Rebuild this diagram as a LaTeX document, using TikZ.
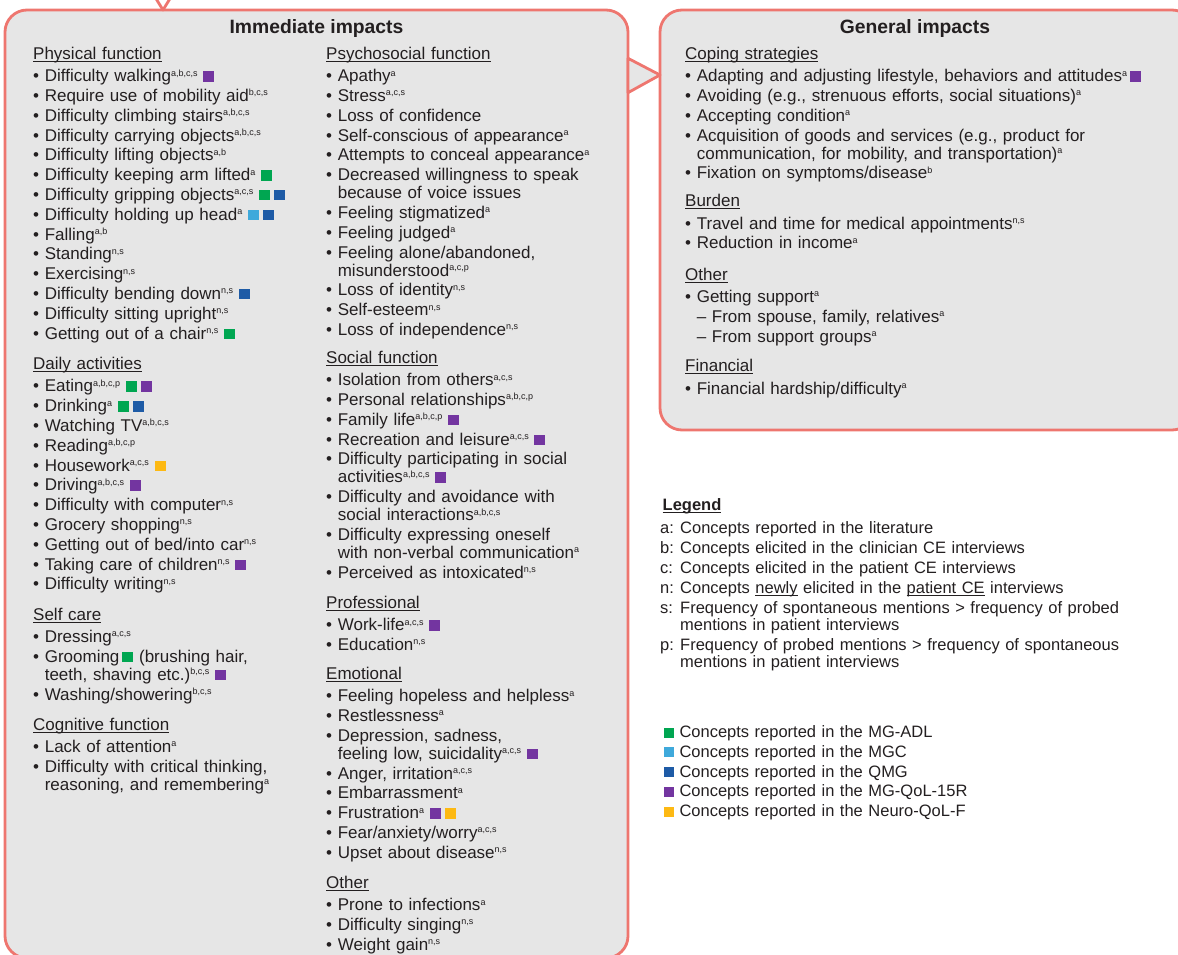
\documentclass[tikz,border=0pt]{standalone}
\usepackage{fontspec}
\setmainfont{Liberation Sans}
\usetikzlibrary{positioning}
\definecolor{ink}{HTML}{231F20}
\definecolor{rim}{HTML}{EE766F}
\definecolor{panegray}{HTML}{E6E6E6}
\definecolor{cadl}{HTML}{00A651}
\definecolor{cmgc}{HTML}{3FA9DB}
\definecolor{cqmg}{HTML}{1E5BA6}
\definecolor{cqol}{HTML}{7335A0}
\definecolor{cneu}{HTML}{FDB913}
\newcommand\sps[1]{\raisebox{5.6pt}{\fontsize{9}{9}\selectfont#1}}
\newcommand\sq[1]{\textcolor{#1}{\rule{11pt}{10.5pt}}}
\newcommand\sqq[2]{\sq{#1}\hspace{4pt}\sq{#2}}
\newcommand\ul[1]{\setbox0\hbox{#1}\rlap{\rule[-2.4pt]{\wd0}{0.9pt}}\box0\relax}
\newcommand\hd[1]{\setlength\parskip{1.8pt}\ul{#1}\par\vspace{2.6pt}}
\newcommand\itm{\par\leavevmode\setbox0\hbox{\textbullet\ }\hangindent=\wd0\hangafter=1\box0\relax}
\newcommand\sitm{\par\leavevmode\setbox0\hbox{\hphantom{\textbullet\ }--\ }\hangindent=\wd0\hangafter=1\box0\relax}
\newcommand\keyln[1]{\par\leavevmode\hangindent=20pt\hangafter=1\makebox[20pt][l]{#1}}
\tikzset{
  panel/.style={draw=rim, fill=panegray, line width=2.8pt, rounded corners=22pt,
    inner sep=0pt, outer sep=0pt, anchor=north west},
  hed/.style={font=\fontsize{19.3}{22}\selectfont\bfseries, text=ink, anchor=base, inner sep=0pt},
  grp/.style={anchor=base west, inner sep=0pt, text width=#1, align=left, text=ink,
    font=\fontsize{17}{18}\selectfont},
  grp/.default=290pt
}

\begin{document}
\begin{tikzpicture}[x=1pt, y=-1pt, line join=round]
  \useasboundingbox (0,0) rectangle (1178,955);
  % the two panels and the wedge between them
  \node[panel, minimum width=623pt, minimum height=948pt] (imm) at (5,10) {};
  \node[panel, minimum width=534pt, minimum height=420pt] (gen) at (660,10) {};
  \path (imm.north east) ++(0,48.3) coordinate (jA) ++(0,34.4) coordinate (jB);
  \path (gen.north west) ++(0,65) coordinate (jT);
  \draw[rim, fill=panegray, line width=2.8pt] (jA) -- (jT) -- (jB) -- cycle;
  \coordinate (vT) at (163,10);
  \draw[rim, line width=2.8pt] (155,-3) -- (vT) -- (171,-3);
  \node[hed] (immT) at (316.5,33.5) {Immediate impacts};
  \node[hed] (genT) at (915,33.5) {General impacts};

  % immediate impacts, left column
  \node[grp] (phys) at (33,59.3) {\hd{Physical function}%
    \itm Difficulty walking\sps{a,b,c,s} \sq{cqol}
    \itm Require use of mobility aid\sps{b,c,s}
    \itm Difficulty climbing stairs\sps{a,b,c,s}
    \itm Difficulty carrying objects\sps{a,b,c,s}
    \itm Difficulty lifting objects\sps{a,b}
    \itm Difficulty keeping arm lifted\sps{a} \sq{cadl}
    \itm Difficulty gripping objects\sps{a,c,s} \sqq{cadl}{cqmg}
    \itm Difficulty holding up head\sps{a} \sqq{cmgc}{cqmg}
    \itm Falling\sps{a,b}
    \itm Standing\sps{n,s}
    \itm Exercising\sps{n,s}
    \itm Difficulty bending down\sps{n,s} \sq{cqmg}
    \itm Difficulty sitting upright\sps{n,s}
    \itm Getting out of a chair\sps{n,s} \sq{cadl}\par};
  \node[grp] (daily) at (33,369.5) {\hd{Daily activities}%
    \itm Eating\sps{a,b,c,p} \sqq{cadl}{cqol}
    \itm Drinking\sps{a} \sqq{cadl}{cqmg}
    \itm Watching TV\sps{a,b,c,s}
    \itm Reading\sps{a,b,c,p}
    \itm Housework\sps{a,c,s} \sq{cneu}
    \itm Driving\sps{a,b,c,s} \sq{cqol}
    \itm Difficulty with computer\sps{n,s}
    \itm Grocery shopping\sps{n,s}
    \itm Getting out of bed/into car\sps{n,s}
    \itm Taking care of children\sps{n,s} \sq{cqol}
    \itm Difficulty writing\sps{n,s}\par};
  \node[grp] (selfc) at (33,620) {\hd{Self care}%
    \itm Dressing\sps{a,c,s}
    \itm Grooming\hspace{3pt}\sq{cadl} (brushing hair,\newline teeth, shaving etc.)\sps{b,c,s} \sq{cqol}
    \itm Washing/showering\sps{b,c,s}\par};
  \node[grp] (cogn) at (33,730) {\hd{Cognitive function}%
    \itm Lack of attention\sps{a}
    \itm Difficulty with critical thinking,\newline reasoning, and remembering\sps{a}\par};

  % immediate impacts, right column
  \node[grp=295pt] (psych) at (326,59.3) {\hd{Psychosocial function}%
    \itm Apathy\sps{a}
    \itm Stress\sps{a,c,s}
    \itm Loss of confidence
    \itm Self-conscious of appearance\sps{a}
    \itm Attempts to conceal appearance\sps{a}
    \itm Decreased willingness to speak\newline because of voice issues
    \itm Feeling stigmatized\sps{a}
    \itm Feeling judged\sps{a}
    \itm Feeling alone/abandoned,\newline misunderstood\sps{a,c,p}
    \itm Loss of identity\sps{n,s}
    \itm Self-esteem\sps{n,s}
    \itm Loss of independence\sps{n,s}\par};
  \node[grp=295pt] (soc) at (326,363.3) {\hd{Social function}%
    \itm Isolation from others\sps{a,c,s}
    \itm Personal relationships\sps{a,b,c,p}
    \itm Family life\sps{a,b,c,p} \sq{cqol}
    \itm Recreation and leisure\sps{a,c,s} \sq{cqol}
    \itm Difficulty participating in social\newline activities\sps{a,b,c,s} \sq{cqol}
    \itm Difficulty and avoidance with\newline social interactions\sps{a,b,c,s}
    \itm Difficulty expressing oneself\newline with non-verbal communication\sps{a}
    \itm Perceived as intoxicated\sps{n,s}\par};
  \node[grp=295pt] (prof) at (326,608.3) {\hd{Professional}%
    \itm Work-life\sps{a,c,s} \sq{cqol}
    \itm Education\sps{n,s}\par};
  \node[grp=295pt] (emot) at (326,679.3) {\hd{Emotional}%
    \itm Feeling hopeless and helpless\sps{a}
    \itm Restlessness\sps{a}
    \itm Depression, sadness,\newline feeling low, suicidality\sps{a,c,s} \sq{cqol}
    \itm Anger, irritation\sps{a,c,s}
    \itm Embarrassment\sps{a}
    \itm Frustration\sps{a} \sqq{cqol}{cneu}
    \itm Fear/anxiety/worry\sps{a,c,s}
    \itm Upset about disease\sps{n,s}\par};
  \node[grp=295pt] (othr) at (326,888.3) {\hd{Other}%
    \itm Prone to infections\sps{a}
    \itm Difficulty singing\sps{n,s}
    \itm Weight gain\sps{n,s}\par};

  % general impacts
  \node[grp=480pt] (cope) at (685,59.3) {\hd{Coping strategies}%
    \itm Adapting and adjusting lifestyle, behaviors and attitudes\sps{a}\hspace{3pt}\sq{cqol}
    \itm Avoiding (e.g., strenuous efforts, social situations)\sps{a}
    \itm Accepting condition\sps{a}
    \itm Acquisition of goods and services (e.g., product for\newline communication, for mobility, and transportation)\sps{a}
    \itm Fixation on symptoms/disease\sps{b}\par};
  \node[grp=480pt] (burd) at (685,206.7) {\hd{Burden}%
    \itm Travel and time for medical appointments\sps{n,s}
    \itm Reduction in income\sps{a}\par};
  \node[grp=480pt] (gothr) at (685,280) {\hd{Other}%
    \itm Getting support\sps{a}
    \sitm From spouse, family, relatives\sps{a}
    \sitm From support groups\sps{a}\par};
  \node[grp=480pt] (fin) at (685,371.7) {\hd{Financial}%
    \itm Financial hardship/difficulty\sps{a}\par};

  % legends
  \node[grp=515pt, font=\fontsize{16.5}{17}\selectfont] (key) at (660,510) {\setlength\parskip{3pt}%
    \hspace{2.5pt}\ul{\textbf{Legend}}\par\vspace{3.3pt}%
    \keyln{a:}Concepts reported in the literature
    \keyln{b:}Concepts elicited in the clinician CE interviews
    \keyln{c:}Concepts elicited in the patient CE interviews
    \keyln{n:}Concepts \ul{newly} elicited in the \ul{patient CE} interviews
    \keyln{s:}Frequency of spontaneous mentions > frequency of probed\newline mentions in patient interviews
    \keyln{p:}Frequency of probed mentions > frequency of spontaneous\newline mentions in patient interviews\par};
  \node[grp=450pt, font=\fontsize{16.5}{19.75}\selectfont] (swatch) at (663.3,737.7) {%
    \textcolor{cadl}{\rule{10pt}{10pt}}\hspace{6pt}Concepts reported in the MG-ADL\par
    \textcolor{cmgc}{\rule{10pt}{10pt}}\hspace{6pt}Concepts reported in the MGC\par
    \textcolor{cqmg}{\rule{10pt}{10pt}}\hspace{6pt}Concepts reported in the QMG\par
    \textcolor{cqol}{\rule{10pt}{10pt}}\hspace{6pt}Concepts reported in the MG-QoL-15R\par
    \textcolor{cneu}{\rule{10pt}{10pt}}\hspace{6pt}Concepts reported in the Neuro-QoL-F};
\end{tikzpicture}
\end{document}
